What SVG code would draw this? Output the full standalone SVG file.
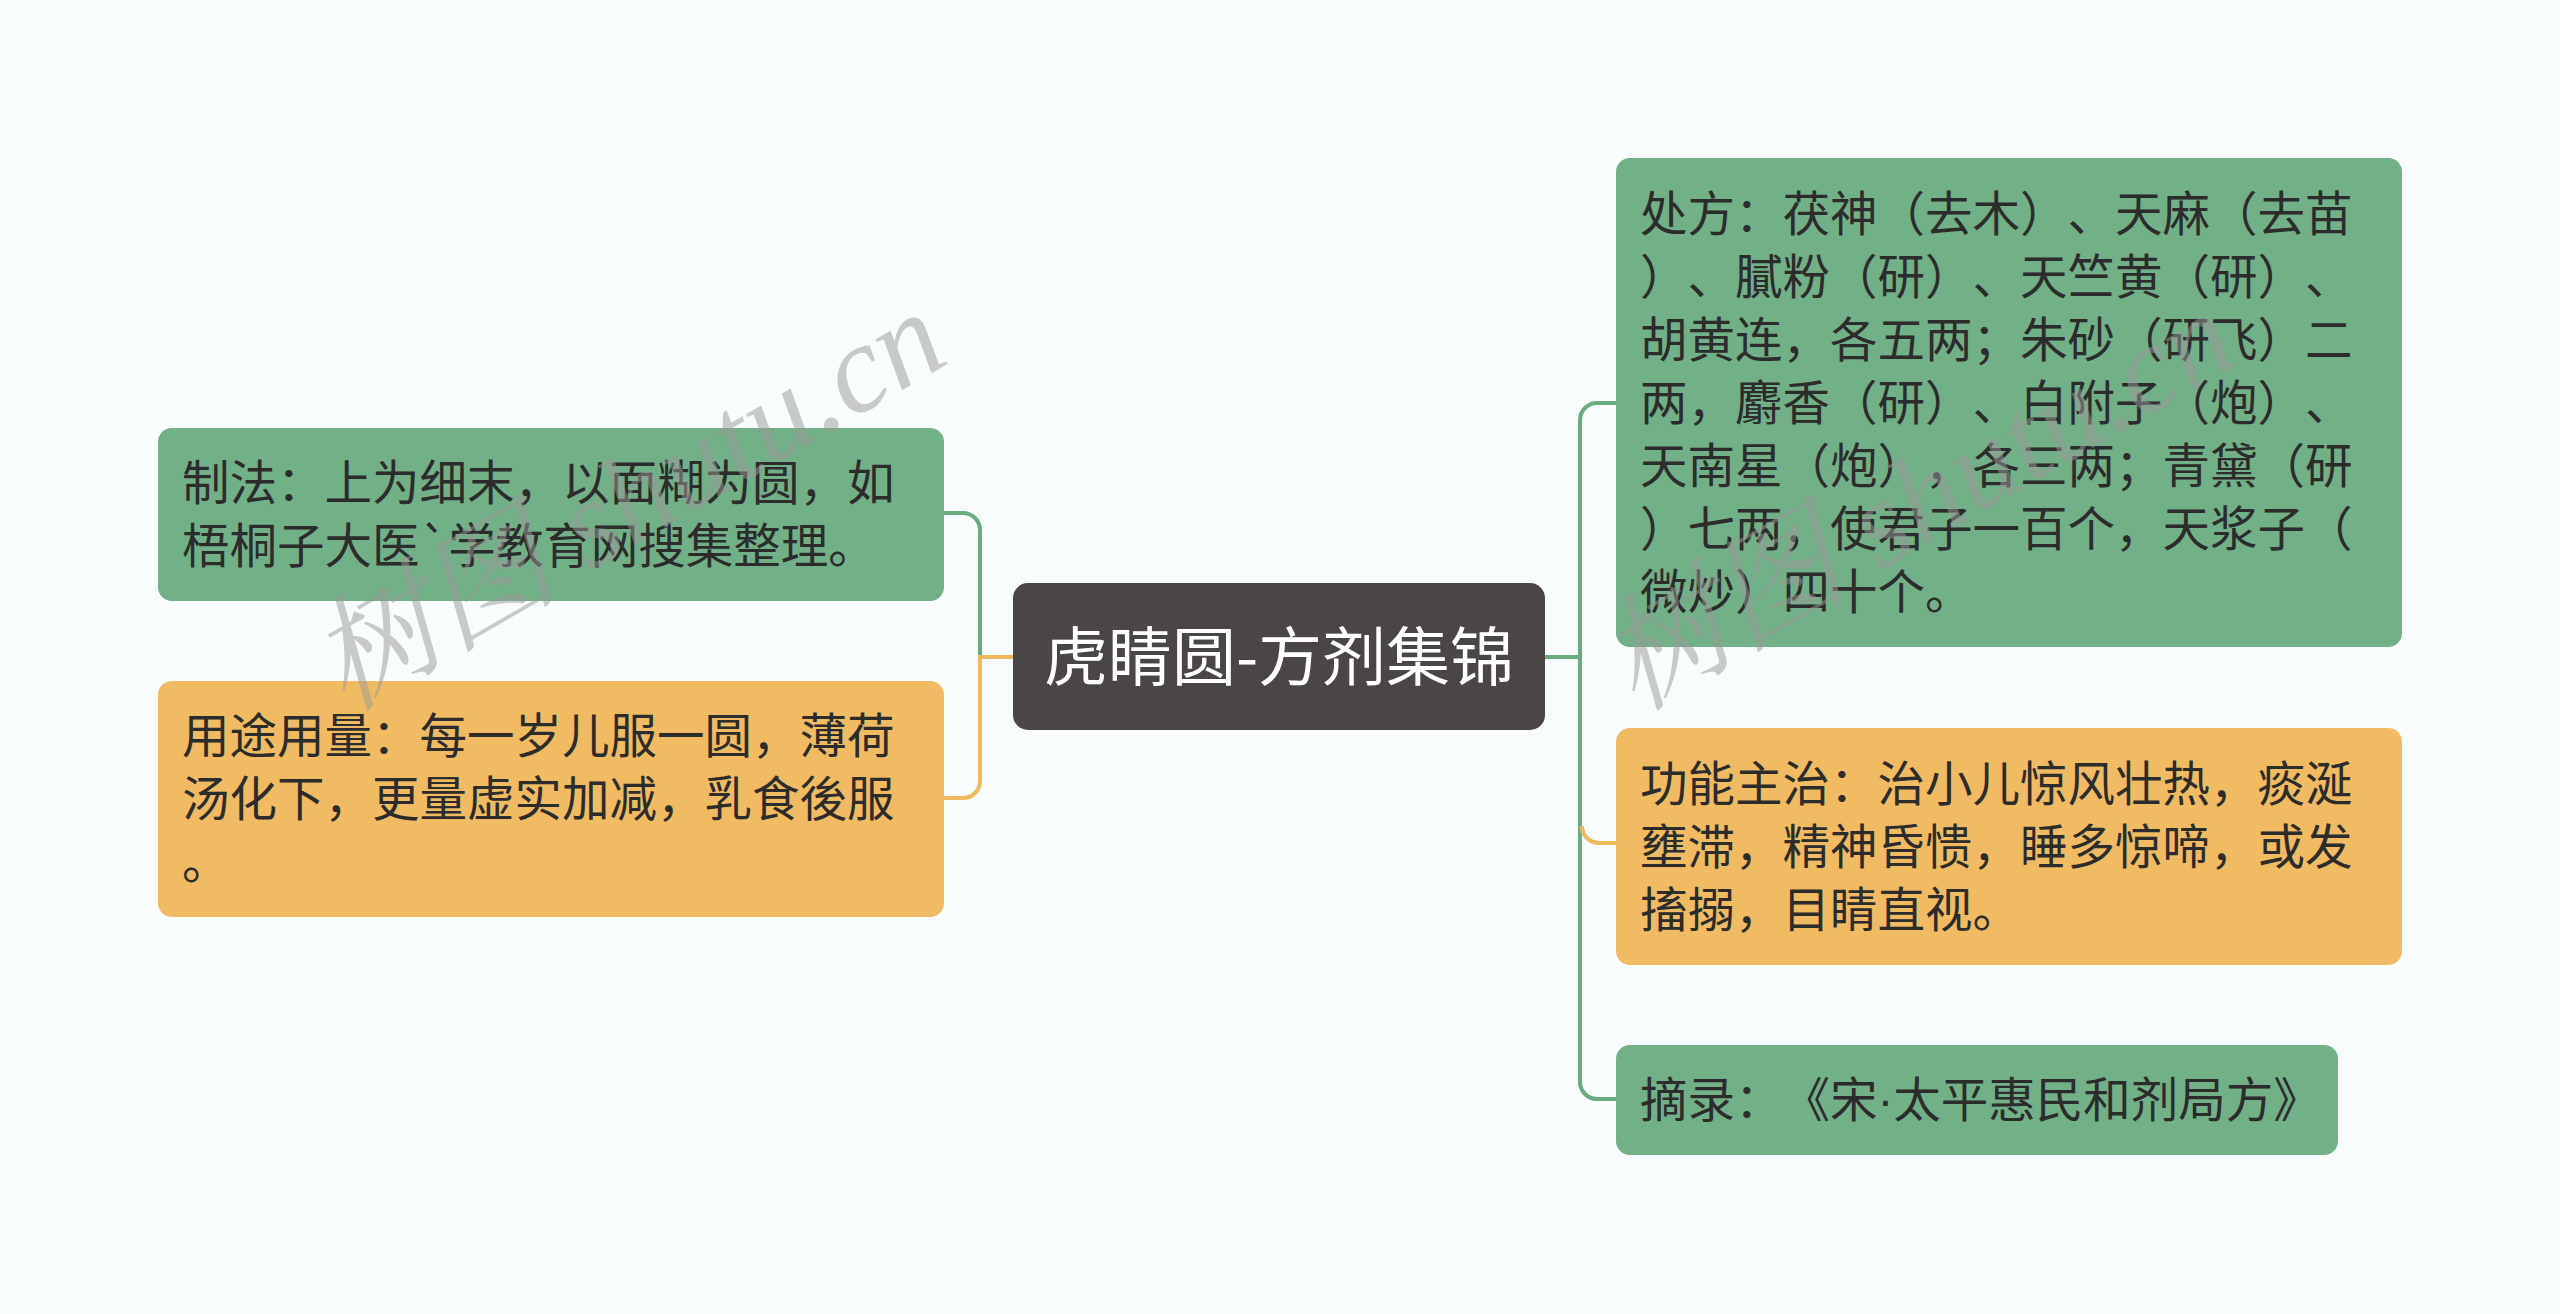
<svg xmlns="http://www.w3.org/2000/svg" width="2560" height="1314" viewBox="0 0 2560 1314">
<style>
.bg{fill:#f8fcfc}
.g{fill:#72b087}
.o{fill:#f0bb62}
.c{fill:#4b4646}
text{text-spacing-trim:space-all}
.t{font-family:"Noto Sans CJK SC","Noto Sans",sans-serif;font-size:47.5px;fill:#2c2c2c}
.ct{font-family:"Noto Sans CJK SC","Noto Sans",sans-serif;font-size:64px;fill:#ffffff}
.dot{font-family:"Liberation Sans",sans-serif}
.lg{fill:none;stroke:#6aab80;stroke-width:4}
.lo{fill:none;stroke:#efba5e;stroke-width:4}
.wm{font-family:"Liberation Serif","Noto Serif CJK SC","Noto Sans CJK SC",serif;font-style:italic;font-size:125px;fill:#9a9a9a;opacity:0.5}
</style>
<rect class="bg" x="0" y="0" width="2560" height="1314"/>
<g id="connectors">
<path class="lg" d="M944,513 H963 A17,17 0 0 1 980,530 V657"/>
<path class="lo" d="M1013,657 H980 V781 A17,17 0 0 1 963,798 H944"/>
<path class="lg" d="M1545,657 H1580"/>
<path class="lg" d="M1616,403 H1597 A17,17 0 0 0 1580,420 V1082 A17,17 0 0 0 1597,1099 H1616"/>
<path class="lo" d="M1582,826 A17,17 0 0 0 1599,843 H1616"/>
</g>
<g id="center">
<rect class="c" x="1013" y="583" width="532" height="147" rx="15"/>
<text class="ct" x="1279" y="680" text-anchor="middle">虎睛圆-方剂集锦</text>
</g>
<g id="zhifa">
<rect class="g" x="158" y="428" width="786" height="173" rx="14"/>
<text class="t"><tspan x="182" y="500">制法：上为细末，以面糊为圆，如</tspan><tspan x="182" y="563">梧桐子大医`学教育网搜集整理。</tspan></text>
</g>
<g id="yongtu">
<rect class="o" x="158" y="681" width="786" height="236" rx="14"/>
<text class="t"><tspan x="182" y="753">用途用量：每一岁儿服一圆，薄荷</tspan><tspan x="182" y="816">汤化下，更量虚实加减，乳食後服</tspan><tspan x="182" y="879">。</tspan></text>
</g>
<g id="chufang">
<rect class="g" x="1616" y="158" width="786" height="489" rx="14"/>
<text class="t"><tspan x="1640" y="231">处方：茯神（去木）、天麻（去苗</tspan><tspan x="1640" y="294">）、膩粉（研）、天竺黄（研）、</tspan><tspan x="1640" y="357">胡黄连，各五两；朱砂（研飞）二</tspan><tspan x="1640" y="420">两，麝香（研）、白附子（炮）、</tspan><tspan x="1640" y="483">天南星（炮），各三两；青黛（研</tspan><tspan x="1640" y="546">）七两，使君子一百个，天浆子（</tspan><tspan x="1640" y="609">微炒）四十个。</tspan></text>
</g>
<g id="gongneng">
<rect class="o" x="1616" y="728" width="786" height="237" rx="14"/>
<text class="t"><tspan x="1640" y="801">功能主治：治小儿惊风壮热，痰涎</tspan><tspan x="1640" y="864">壅滞，精神昏愦，睡多惊啼，或发</tspan><tspan x="1640" y="927">搐搦，目睛直视。</tspan></text>
</g>
<g id="zhailu">
<rect class="g" x="1616" y="1045" width="722" height="110" rx="14"/>
<text class="t" x="1640" y="1117">摘录：《宋<tspan class="dot">·</tspan>太平惠民和剂局方》</text>
</g>
<g id="watermarks">
<text class="wm" transform="translate(345,712) rotate(-30)">树图 shutu.cn</text>
<text class="wm" transform="translate(1635,712) rotate(-30)">树图 shutu.cn</text>
</g>
</svg>
